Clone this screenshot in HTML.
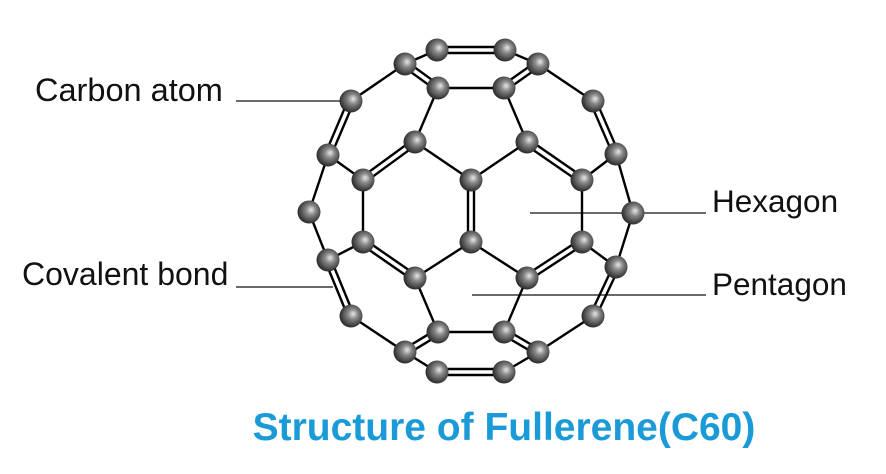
<!DOCTYPE html>
<html><head><meta charset="utf-8"><style>
html,body{margin:0;padding:0;background:#fff;width:886px;height:474px;overflow:hidden}
svg{display:block}
text{font-family:"Liberation Sans",Arial,sans-serif}
</style></head><body>
<svg id="s" width="886" height="474" viewBox="0 0 886 474">
<defs><radialGradient id="g" cx="0.55" cy="0.45" r="0.6" fx="0.6" fy="0.4">
<stop offset="0" stop-color="#e8e8e8"/><stop offset="0.35" stop-color="#8a8a8a"/><stop offset="1" stop-color="#1e1e1e"/></radialGradient></defs>
<g stroke="#111" stroke-width="1.3">
<line x1="236" y1="101" x2="345" y2="101"/>
<line x1="236" y1="287" x2="333" y2="287"/>
<line x1="530" y1="213" x2="706" y2="213"/>
<line x1="472" y1="295" x2="706" y2="295"/>
</g>
<g id="b" stroke="#000" stroke-width="2.4"></g>
<g id="a"></g>
<text x="35" y="101" font-size="32.5" fill="#111">Carbon atom</text>
<text x="22" y="285" font-size="32" fill="#111">Covalent bond</text>
<text x="712" y="212" font-size="31.5" fill="#111">Hexagon</text>
<text x="712" y="295" font-size="31.5" fill="#111">Pentagon</text>
<text x="504" y="440" font-size="39" font-weight="bold" fill="#1a9ad6" text-anchor="middle">Structure of Fullerene(C60)</text>
</svg>
<script>
var P={T1:[437,50],T2:[505,50],a:[405,64],b:[538,64],c:[438,88],d:[504,88],e:[351,101],f:[593,101],g:[415,142],h:[527,142],i:[328,155],j:[616,154],k:[363,180],l:[471,180],m:[582,180],n:[309,212],o:[633,213],p:[363,242],q:[471,242],r:[582,242],s:[328,260],t:[616,267],u:[415,278],v:[527,278],w:[351,316],x:[593,316],y:[438,332],z:[504,332],A:[405,352],B:[538,352],C:[437,372],D:[504,372]};
var B=[["T1","T2",2],["T1","a",1],["T2","b",1],["a","c",2],["b","d",2],["c","d",1],["a","e",1],["b","f",1],["c","g",1],["d","h",1],["e","i",2],["f","j",2],["g","k",2],["g","l",1],["h","l",1],["h","m",2],["i","k",1],["j","m",1],["i","n",1],["j","o",1],["k","p",1],["l","q",2],["m","r",1],["n","s",1],["o","t",1],["p","s",1],["r","t",1],["p","u",2],["q","u",1],["q","v",1],["r","v",2],["s","w",2],["t","x",2],["u","y",1],["v","z",1],["w","A",1],["x","B",1],["y","z",1],["y","A",2],["z","B",2],["A","C",1],["B","D",1],["C","D",2]];
var ns="http://www.w3.org/2000/svg",gb=document.getElementById("b"),ga=document.getElementById("a");
function L(x1,y1,x2,y2){var l=document.createElementNS(ns,"line");l.setAttribute("x1",x1);l.setAttribute("y1",y1);l.setAttribute("x2",x2);l.setAttribute("y2",y2);gb.appendChild(l);}
B.forEach(function(e){var p=P[e[0]],q=P[e[1]];if(e[2]==1){L(p[0],p[1],q[0],q[1]);}else{var dx=q[0]-p[0],dy=q[1]-p[1],len=Math.hypot(dx,dy),nx=-dy/len*3,ny=dx/len*3;L(p[0]+nx,p[1]+ny,q[0]+nx,q[1]+ny);L(p[0]-nx,p[1]-ny,q[0]-nx,q[1]-ny);}});
for(var k in P){var c=document.createElementNS(ns,"circle");c.setAttribute("cx",P[k][0]);c.setAttribute("cy",P[k][1]);c.setAttribute("r",11.5);c.setAttribute("fill","url(#g)");ga.appendChild(c);}
</script>
</body></html>
